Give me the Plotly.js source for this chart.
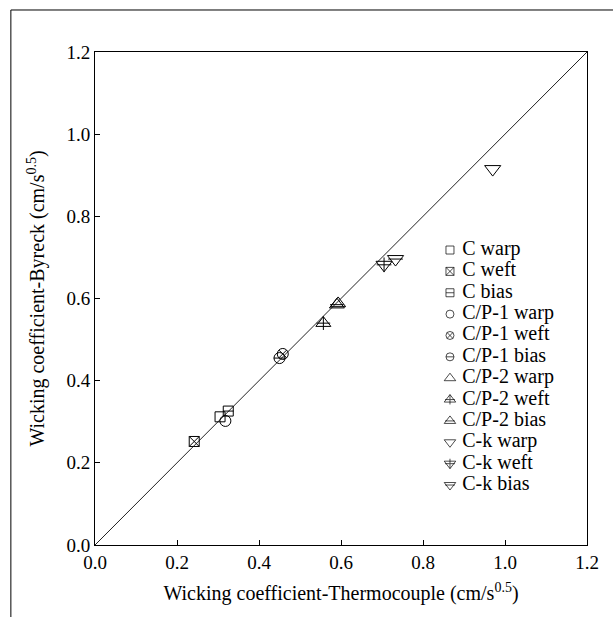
<!DOCTYPE html>
<html>
<head>
<meta charset="utf-8">
<script src="https://cdn.plot.ly/plotly-3.0.1.min.js"></script>
<style>
html,body{margin:0;padding:0;background:#fff;}
#chart{width:613px;height:617px;}
</style>
</head>
<body>
<div id="chart"></div>
<script>
// Series names
const seriesNames = ["C warp","C weft","C bias","C/P-1 warp","C/P-1 weft","C/P-1 bias",
                     "C/P-2 warp","C/P-2 weft","C/P-2 bias","C-k warp","C-k weft","C-k bias"];
// Thermocouple (x) values
const thermo = [0.305, 0.242, 0.325, 0.318, 0.458, 0.450, 0.593, 0.557, 0.590, 0.970, 0.705, 0.733];
// Byreck (y) values
const byreck = [0.312, 0.252, 0.326, 0.302, 0.465, 0.455, 0.588, 0.540, 0.585, 0.915, 0.682, 0.696];
// Reference diagonal (1:1 line)
const diagX = [0, 1.2];
const diagY = [0, 1.2];

// Marker styling per series: outer symbol, inner overlay symbol (or null)
const outerSym = ["square-open","square-x-open","square-open","circle-open","circle-x-open","circle-open",
                  "triangle-up-open","triangle-up-open","triangle-up-open","triangle-down-open","triangle-down-open","triangle-down-open"];
const innerSym = [null,null,"line-ew",null,null,"line-ew",null,"cross-thin","line-ew",null,"cross-thin","line-ew"];
const sizes    = [10,10,10,11,11,11,13,13,13,14,14,14];
const keySizes = [8,8,8,8,8,8,10,10,10,10,10,10];

const serif = "'Times New Roman', 'Liberation Serif', serif";
const traces = [];
traces.push({x: diagX, y: diagY, mode: "lines", line: {color: "#222", width: 1}, hoverinfo: "skip"});

// Data marks
seriesNames.forEach((n, i) => {
  traces.push({
    x: [thermo[i]], y: [byreck[i]], name: n, mode: "markers",
    marker: {symbol: outerSym[i], size: sizes[i], color: "#000", line: {width: 1, color: "#000"}}
  });
  if (innerSym[i]) {
    traces.push({
      x: [thermo[i]], y: [byreck[i]], name: n, mode: "markers", hoverinfo: "skip",
      marker: {symbol: innerSym[i], size: sizes[i] * 0.75, color: "#000", line: {width: 1, color: "#000"}}
    });
  }
});

// Key (legend) drawn on its own small categorical axis
const keyX = seriesNames.map(() => 0);
traces.push({
  x: keyX, y: seriesNames, xaxis: "x2", yaxis: "y2", mode: "markers",
  cliponaxis: false, hoverinfo: "skip",
  marker: {symbol: outerSym, size: keySizes, color: "#000", line: {width: 1, color: "#000"}}
});
const innerIdx = seriesNames.map((n, i) => i).filter(i => innerSym[i]);
traces.push({
  x: innerIdx.map(() => 0), y: innerIdx.map(i => seriesNames[i]), xaxis: "x2", yaxis: "y2", mode: "markers",
  cliponaxis: false, hoverinfo: "skip",
  marker: {symbol: innerIdx.map(i => innerSym[i]), size: innerIdx.map(i => keySizes[i] * 0.7),
           color: "#000", line: {width: 1, color: "#000"}}
});
// Key labels (invisible spacer marker sets the gap to the symbol)
traces.push({
  x: keyX, y: seriesNames, xaxis: "x2", yaxis: "y2", mode: "markers+text",
  text: seriesNames, textposition: "middle right", cliponaxis: false, hoverinfo: "skip",
  textfont: {family: serif, size: 20, color: "#000"},
  marker: {size: 18, opacity: 0, color: "#fff"}
});

const axisCommon = {
  range: [0, 1.2], dtick: 0.2, tickformat: ".1f", ticks: "inside", ticklen: 5, tickcolor: "#000",
  showline: true, linecolor: "#000", linewidth: 1, mirror: true, showgrid: false, zeroline: false,
  tickfont: {family: serif, size: 19, color: "#000"}
};

const layout = {
  width: 613, height: 617,
  margin: {l: 95, r: 26, t: 52, b: 72},
  paper_bgcolor: "#fff", plot_bgcolor: "#fff",
  font: {family: serif, color: "#000"},
  showlegend: false,
  xaxis: Object.assign({}, axisCommon, {
    title: {text: "Wicking coefficient-Thermocouple (cm/s<sup>0.5</sup>)", font: {family: serif, size: 20, color: "#000"}, standoff: 14}
  }),
  yaxis: Object.assign({}, axisCommon, {
    title: {text: "Wicking coefficient-Byreck (cm/s<sup>0.5</sup>)", font: {family: serif, size: 20, color: "#000"}, standoff: 16}
  }),
  xaxis2: {domain: [0.7215, 1.0], range: [0, 1], anchor: "y2", visible: false, fixedrange: true},
  yaxis2: {domain: [0.100, 0.620], anchor: "x2", type: "category", categoryorder: "array",
           categoryarray: seriesNames, range: [11.5, -0.5], visible: false, fixedrange: true},
  shapes: [
    {type: "path", xref: "paper", yref: "paper",
     path: "M -0.171,-0.3 L -0.171,1.0852 L 1.2,1.0852", line: {color: "#000", width: 1}}
  ]
};

Plotly.newPlot("chart", traces, layout, {displayModeBar: false, staticPlot: true});
</script>
</body>
</html>
